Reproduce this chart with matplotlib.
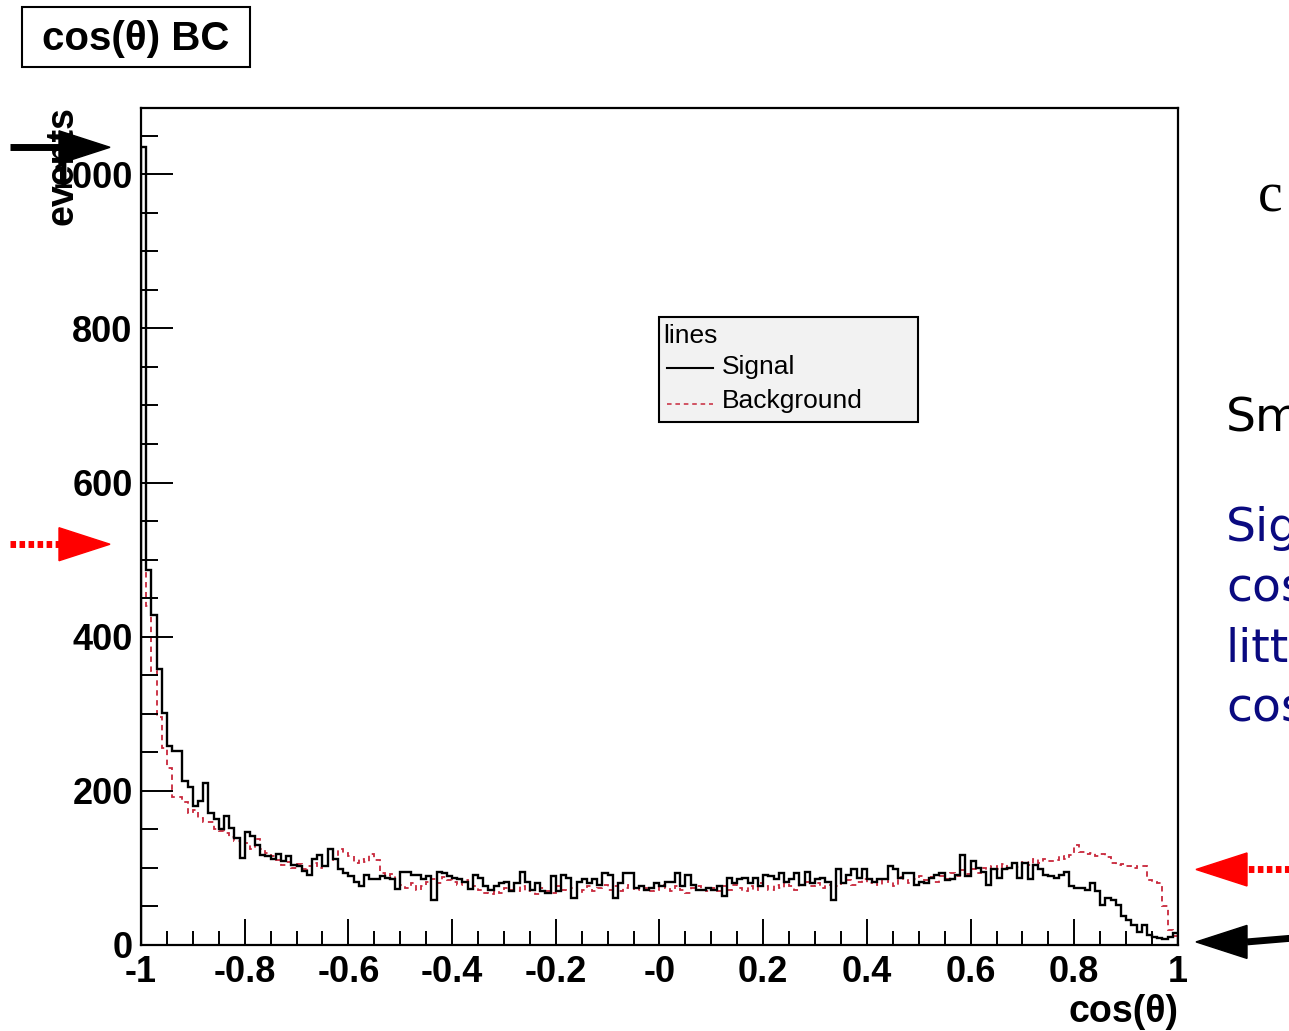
import numpy as np
import matplotlib
matplotlib.use("Agg")
import matplotlib.pyplot as plt
from matplotlib.patches import Rectangle, Polygon
from matplotlib.lines import Line2D

# cos(theta) distributions, 200 bins from -1 to 1
x_lo, x_hi, n_bins = -1.0, 1.0, 200

signal = [
    1035, 486, 428, 358, 301, 258, 252, 252, 213, 205,
    181, 187, 210, 171, 163, 150, 167, 152, 139, 113,
    146, 141, 130, 117, 115, 112, 118, 109, 115, 104,
    102, 96, 91, 111, 117, 102, 125, 111, 98, 93,
    89, 82, 76, 91, 85, 86, 89, 87, 85, 73,
    95, 95, 91, 91, 85, 89, 59, 95, 93, 89,
    87, 85, 82, 73, 91, 87, 76, 72, 76, 80,
    82, 70, 80, 95, 82, 72, 80, 70, 67, 89,
    70, 91, 87, 61, 82, 85, 80, 85, 78, 93,
    91, 61, 80, 94, 94, 74, 76, 72, 74, 80,
    76, 82, 82, 94, 76, 91, 78, 72, 72, 74,
    72, 76, 63, 87, 80, 85, 87, 80, 87, 76,
    91, 89, 85, 93, 82, 85, 93, 78, 95, 80,
    85, 87, 82, 59, 98, 80, 91, 98, 87, 98,
    85, 82, 85, 85, 102, 98, 87, 93, 93, 78,
    82, 80, 87, 91, 93, 84, 85, 91, 117, 89,
    109, 100, 95, 78, 98, 87, 98, 100, 106, 87,
    106, 85, 104, 98, 91, 90, 87, 91, 95, 76,
    74, 74, 72, 80, 70, 52, 61, 59, 52, 37,
    33, 26, 17, 26, 13, 11, 9, 8, 11, 15,
]

background = [
    600, 440, 355, 296, 255, 230, 192, 192, 185, 171,
    175, 165, 160, 160, 150, 148, 145, 140, 135, 130,
    132, 125, 138, 125, 120, 115, 110, 104, 108, 100,
    105, 98, 102, 106, 100, 104, 110, 112, 125, 119,
    115, 106, 112, 108, 118, 110, 94, 90, 92, 82,
    78, 74, 80, 72, 76, 82, 86, 80, 88, 84,
    82, 78, 84, 80, 76, 72, 68, 66, 70, 68,
    74, 72, 70, 76, 70, 72, 66, 74, 70, 68,
    76, 72, 70, 74, 68, 72, 76, 70, 74, 78,
    72, 76, 70, 74, 78, 72, 76, 74, 70, 72,
    78, 74, 70, 76, 72, 68, 74, 76, 72, 70,
    74, 70, 76, 72, 78, 74, 70, 76, 72, 80,
    76, 72, 78, 74, 80, 76, 72, 78, 82, 76,
    80, 74, 78, 82, 76, 80, 84, 78, 82, 86,
    80, 84, 78, 86, 82, 76, 88, 84, 80, 86,
    90, 84, 88, 82, 90, 86, 94, 89, 97, 92,
    99, 93, 100, 97, 103, 98, 105, 99, 107, 101,
    108, 104, 111, 106, 112, 109, 110, 115, 112, 117,
    130, 121, 118, 120, 115, 118, 114, 106, 104, 105,
    102, 100, 102, 102, 84, 82, 80, 50, 20, 12,
]

x_ticks = [-1, -0.8, -0.6, -0.4, -0.2, 0, 0.2, 0.4, 0.6, 0.8, 1]
x_tick_labels = ["-1", "-0.8", "-0.6", "-0.4", "-0.2", "-0", "0.2", "0.4", "0.6", "0.8", "1"]
y_ticks = [0, 200, 400, 600, 800, 1000]

# marker arrows: (y value pointed at, colour, side, dotted tail)
arrow_marks = [
    (1035, "black", "left", False),
    (520, "#ff0000", "left", True),
    (98, "#ff0000", "right", True),
    (4, "black", "right", False),
]

W, H = 1289, 1031
plt.rcParams["font.family"] = ["Liberation Sans Narrow", "Liberation Sans", "DejaVu Sans"]

fig = plt.figure(figsize=(W / 100, H / 100), dpi=100)
ax = fig.add_axes([141 / W, 1 - 945 / H, (1178 - 141) / W, (945 - 108) / H])

edges = np.linspace(x_lo, x_hi, n_bins + 1)
ax.stairs(background, edges, color="#c8283c", lw=1.3, linestyle=(0, (3, 2.5)), baseline=0)
ax.stairs(signal, edges, color="black", lw=1.7, baseline=0)

ax.set_xlim(x_lo, x_hi)
ax.set_ylim(0, 1086)

ax.set_xticks(x_ticks)
ax.set_xticklabels(x_tick_labels)
ax.set_xticks(np.arange(-1, 1.0001, 0.05), minor=True)
ax.set_yticks(y_ticks)
ax.set_yticks(np.arange(0, 1086, 50), minor=True)

for lab in ax.get_xticklabels() + ax.get_yticklabels():
    lab.set_fontsize(26)
    lab.set_fontweight("bold")

ax.tick_params(axis="x", which="major", direction="in", length=19, width=1.4, pad=7)
ax.tick_params(axis="x", which="minor", direction="in", length=10, width=1.4)
ax.tick_params(axis="y", which="major", direction="in", length=23, width=1.4, pad=6)
ax.tick_params(axis="y", which="minor", direction="in", length=12, width=1.4)
for sp in ax.spines.values():
    sp.set_linewidth(1.6)


def fx(px):
    return px / W


def fy(py):
    return 1 - py / H


# axis titles, ROOT style: at the ends of the axes
fig.text(fx(62), fy(106), "events", rotation=90, ha="center", va="top",
         fontsize=27, fontweight="bold")
fig.text(fx(1178), fy(1012), "cos(θ)", ha="right", va="center",
         fontsize=27, fontweight="bold")

# title box
fig.patches.append(Rectangle((fx(22), fy(67)), fx(250) - fx(22), fy(7) - fy(67),
                             transform=fig.transFigure, fill=False, ec="black", lw=1.5))
fig.text(fx(136), fy(39), "cos(θ) BC", ha="center", va="center",
         fontsize=29, fontweight="bold", family=["Liberation Sans", "DejaVu Sans"])

# legend box
fig.patches.append(Rectangle((fx(659), fy(422)), fx(918) - fx(659), fy(317) - fy(422),
                             transform=fig.transFigure, fc="#f2f2f2", ec="black", lw=1.5))
fig.text(fx(663), fy(336), "lines", ha="left", va="center", fontsize=19)
fig.lines.append(Line2D([fx(667), fx(713)], [fy(368), fy(368)], transform=fig.transFigure,
                        color="black", lw=1.5))
fig.text(fx(722), fy(367), "Signal", ha="left", va="center", fontsize=19)
fig.lines.append(Line2D([fx(667), fx(713)], [fy(404), fy(404)], transform=fig.transFigure,
                        color="#c8283c", lw=1.1, linestyle=(0, (3, 2.5))))
fig.text(fx(722), fy(401), "Background", ha="left", va="center", fontsize=19)

# arrows marking the peak and end-point values
to_fig = ax.transData + fig.transFigure.inverted()
half = 16.5 / H
for val, col, side, dotted in arrow_marks:
    yv = to_fig.transform((0, val))[1]
    if side == "left":
        tip, base, tail = fx(110), fx(59), fx(10)
    else:
        tip, base, tail = fx(1196), fx(1247), fx(1295)
    fig.patches.append(Polygon([(tip, yv), (base, yv + half), (base, yv - half)],
                               closed=True, transform=fig.transFigure, fc=col, ec=col))
    tail_y = yv if side == "left" or dotted else yv + 4 / H
    fig.lines.append(Line2D([tail, base], [tail_y, yv], transform=fig.transFigure, color=col,
                            lw=5,
                            linestyle=(0, (0.8, 0.5)) if dotted else "-",
                            solid_capstyle="butt", dash_capstyle="butt"))

# slide text running off the right edge
fig.text(fx(1258), fy(212), "c", ha="left", va="baseline", fontsize=40,
         family=["Liberation Serif", "DejaVu Serif"])
fig.text(fx(1226), fy(431), "Sm", ha="left", va="baseline", fontsize=34,
         family=["DejaVu Sans"])
navy = "#0a0a80"
for txt, base_y in [("Sig", 541), ("cos", 602), ("litt", 662), ("cos", 721)]:
    fig.text(fx(1226), fy(base_y), txt, ha="left", va="baseline", fontsize=34,
             color=navy, family=["DejaVu Sans"])

fig.savefig("out.png", dpi=100)
